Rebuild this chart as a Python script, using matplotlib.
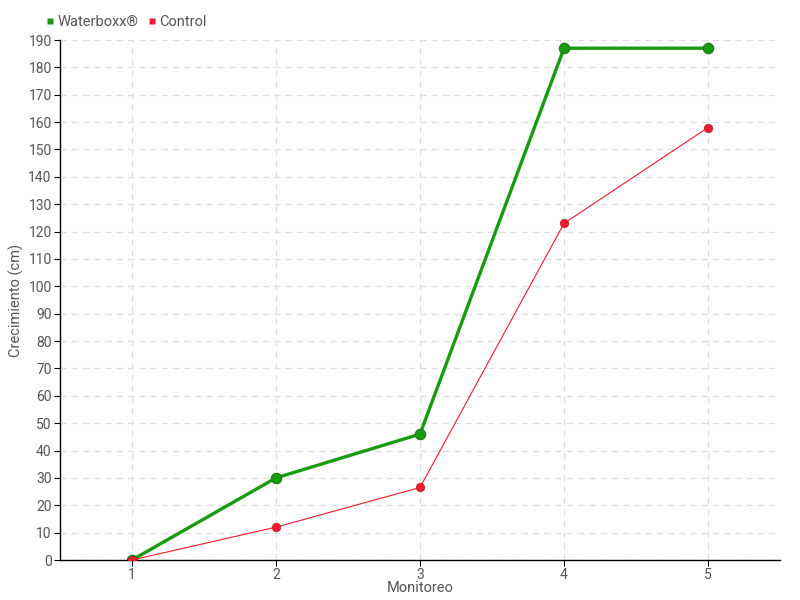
import matplotlib.pyplot as plt
from matplotlib.lines import Line2D

plt.rcParams['font.family'] = ['Roboto', 'DejaVu Sans']

monitoreo = [1, 2, 3, 4, 5]
waterboxx = [0, 30, 46, 187, 187]
control = [0, 12, 26.5, 123, 158]

green = '#1a9a0f'
red = '#f0192c'
txt = '#555555'

fig = plt.figure(figsize=(8, 6), dpi=100)
ax = fig.add_axes([60 / 800, 40 / 600, 720 / 800, 520 / 600])

ax.plot(monitoreo, control, color=red, lw=0.8, marker='o', ms=6,
        markerfacecolor=red, markeredgecolor='#c8202a', markeredgewidth=0.6, zorder=3)
ax.plot(monitoreo, waterboxx, color=green, lw=2.4, marker='o', ms=7.5,
        markerfacecolor=green, markeredgecolor='#157a10', markeredgewidth=0.8, zorder=2)

ax.set_xlim(0.5, 5.5)
ax.set_ylim(0, 190)
ax.set_xticks(monitoreo)
ax.set_yticks(range(0, 191, 10))
ax.grid(True, color='#dddddd', linestyle=(0, (5, 4)), lw=0.9)
ax.set_axisbelow(True)

for s in ['top', 'right']:
    ax.spines[s].set_visible(False)
for s in ['left', 'bottom']:
    ax.spines[s].set_color('black')
    ax.spines[s].set_linewidth(1)

ax.tick_params(axis='both', labelsize=10, labelcolor=txt, length=4, color='black')
ax.tick_params(axis='x', pad=2)
ax.tick_params(axis='y', pad=2)

ax.set_xlabel('Monitoreo', fontsize=10.5, color=txt)
ax.set_ylabel('Crecimiento (cm)', fontsize=10.5, color=txt)
ax.xaxis.set_label_coords(0.5, -21 / 520)
ax.yaxis.set_label_coords(-36 / 720, 0.5)

handles = [
    Line2D([], [], marker='s', color='none', markerfacecolor=green,
           markeredgecolor='none', ms=5, label='Waterboxx®'),
    Line2D([], [], marker='s', color='none', markerfacecolor=red,
           markeredgecolor='none', ms=5, label='Control'),
]
fig.legend(handles=handles, loc='center left', bbox_to_anchor=(46 / 800, 1 - 22 / 600),
           ncol=2, frameon=False, fontsize=10.5, handlelength=0.6, handletextpad=0.2,
           columnspacing=0.6, labelcolor=txt, borderaxespad=0, borderpad=0)

fig.savefig('out.png', dpi=100)
